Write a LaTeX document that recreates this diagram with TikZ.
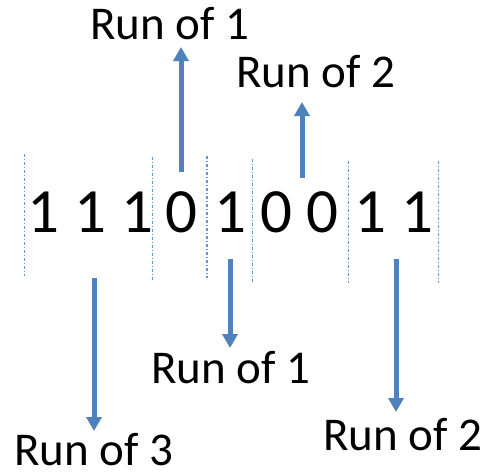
\documentclass[tikz,border=0pt]{standalone}
\usepackage{fontspec}
\setmainfont{Carlito}
\usetikzlibrary{arrows.meta}
\definecolor{arrowblue}{HTML}{4F81BD}
\definecolor{sepblue}{HTML}{5B9BD5}
\tikzset{
  digit/.style={anchor=base, inner sep=0pt, font=\fontsize{63}{70}\selectfont},
  runlabel/.style={anchor=base, inner sep=0pt, text depth=0pt, font=\fontsize{47}{52}\selectfont},
  runarrow/.style={draw=arrowblue, line width=5pt, -{Triangle[width=15pt,length=14pt]}},
  sepline/.style={draw=sepblue, line width=0.8pt, dash pattern=on 3pt off 2pt on 1pt off 2pt}
}
\begin{document}
\begin{tikzpicture}[x=1pt,y=-1pt]
\useasboundingbox (0,0) rectangle (489,472);
% digits
\foreach \d/\x [count=\i] in {1/43,1/90,1/137,0/181,1/230,0/276,0/322,1/370,1/417}
  \node[digit] (d\i) at (\x,232) {\d};
% separators
\foreach \x/\a/\b [count=\i] in {24/154/276,152/157/280,207/156/278,252/159/282,348/161/283,438/161/283}{
  \coordinate (s\i a) at (\x,\a);
  \coordinate (s\i b) at (\x,\b);
  \draw[sepline] (s\i a) -- (s\i b);
}
\draw[sepline] (206.2,156) -- (206.2,278);
% labels
\node[runlabel] (l1) at (170,39) {Run of 1};
\node[runlabel] (l2) at (316,87) {Run of 2};
\node[runlabel] (l3) at (231,383) {Run of 1};
\node[runlabel] (l4) at (94,465) {Run of 3};
\node[runlabel] (l5) at (403,450) {Run of 2};
% arrow ends
\coordinate (a1s) at (181,172); \coordinate (a1e) at (181,47);
\coordinate (a2s) at (302,178); \coordinate (a2e) at (302,102);
\coordinate (a3s) at (230,259); \coordinate (a3e) at (230,348);
\coordinate (a4s) at (94,278);  \coordinate (a4e) at (94,431);
\coordinate (a5s) at (396,259); \coordinate (a5e) at (396,412);
\draw[runarrow] (a1s) -- (a1e);
\draw[runarrow] (a2s) -- (a2e);
\draw[runarrow] (a3s) -- (a3e);
\draw[runarrow] (a4s) -- (a4e);
\draw[runarrow] (a5s) -- (a5e);
\end{tikzpicture}
\end{document}
